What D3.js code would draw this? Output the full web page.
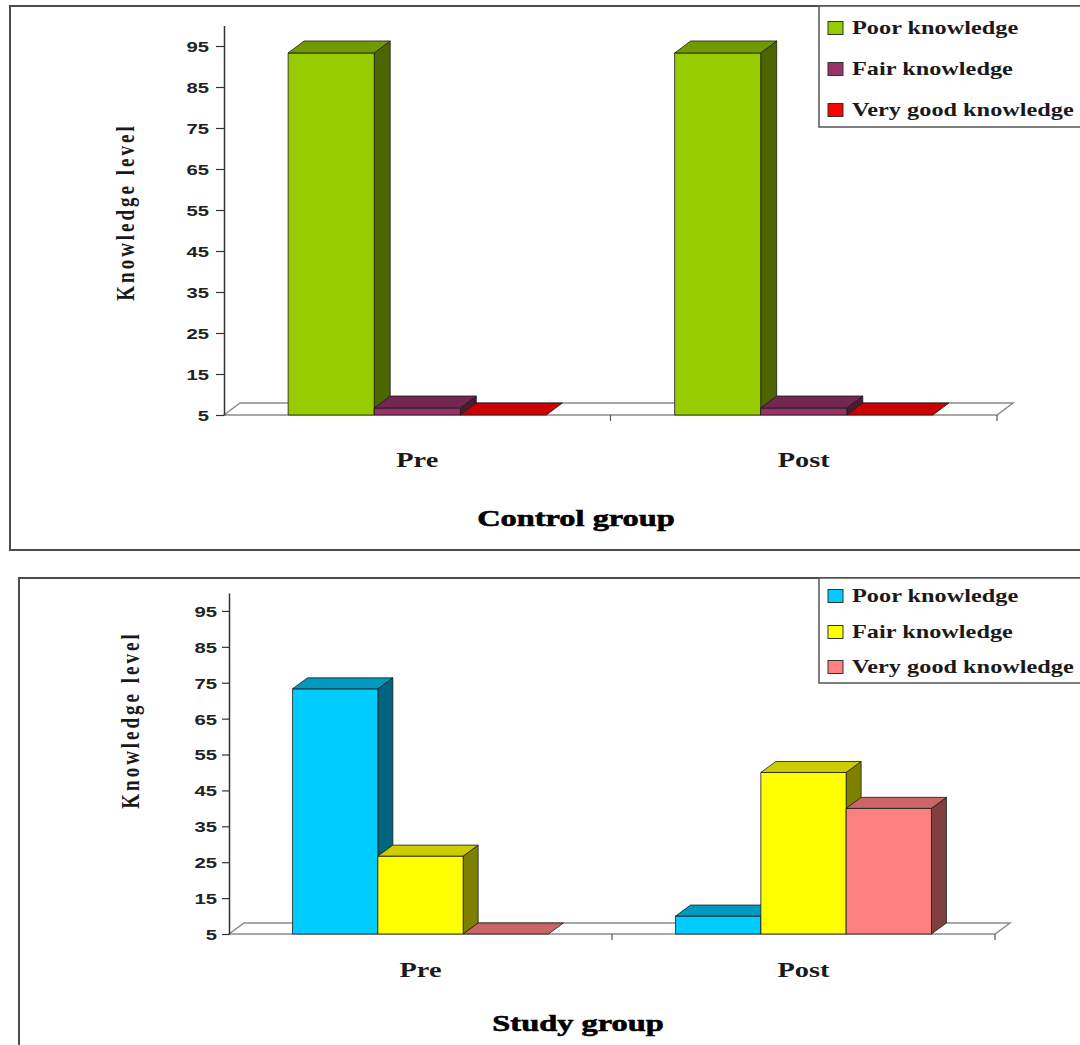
<!DOCTYPE html>
<html>
<head>
<meta charset="utf-8">
<script src="https://cdn.jsdelivr.net/npm/d3@7"></script>
<style>
    body { margin: 0; background: #fff; }
    svg { display: block; }
</style>
</head>
<body>
<div id="chart"></div>
<script>
// Chart values (percent)
const categories = ["Pre", "Post"];
const seriesNames = ["Poor knowledge", "Fair knowledge", "Very good knowledge"];
const controlPoor = [93.3, 93.3];
const controlFair = [6.7, 6.7];
const controlVeryGood = [0, 0];
const studyPoor = [73.3, 10];
const studyFair = [26.7, 50];
const studyVeryGood = [0, 40];
const yTicks = [5, 15, 25, 35, 45, 55, 65, 75, 85, 95];
const yMin = 5, yMax = 100;

// Palettes: front, top, side for each series
const controlColors = [
    { front: "#99CC00", top: "#739900", side: "#4D6600" },
    { front: "#993366", top: "#732650", side: "#4D1933" },
    { front: "#FF0000", top: "#CC0000", side: "#800000" }
];
const studyColors = [
    { front: "#00CCFF", top: "#0099BF", side: "#006680" },
    { front: "#FFFF00", top: "#CCCC00", side: "#808000" },
    { front: "#FF8080", top: "#CC6666", side: "#804040" }
];

const stretch = 1.35; // the picture is wider than its type
const serif = "'Liberation Serif', 'Times New Roman', serif";
const sans = "'Liberation Sans', Arial, sans-serif";

const svg = d3.select("#chart").append("svg")
    .attr("width", 1080)
    .attr("height", 1045);

svg.append("rect").attr("width", 1080).attr("height", 1045).attr("fill", "#fff");

function drawChart(cfg) {
    const g = svg.append("g");

    // outer frame (right side runs off the page)
    g.append("rect")
        .attr("x", cfg.frame.x).attr("y", cfg.frame.y)
        .attr("width", 1200).attr("height", cfg.frame.h)
        .attr("fill", "none")
        .attr("stroke", "#4d4d4d")
        .attr("stroke-width", 2);

    const x0 = d3.scaleBand()
        .domain(categories)
        .range([cfg.plot.left, cfg.plot.right])
        .paddingInner(0).paddingOuter(0);

    const x1 = d3.scaleBand()
        .domain(seriesNames)
        .range([0, x0.bandwidth()])
        .paddingInner(0)
        .paddingOuter(0.745);

    const y = d3.scaleLinear()
        .domain([yMin, yMax])
        .range([cfg.plot.bottom, cfg.plot.top]);

    const dx = cfg.depth.dx, dy = cfg.depth.dy;
    const y0 = y(yMin);

    // floor
    g.append("polygon")
        .attr("points", [
            [cfg.plot.left, y0], [cfg.plot.right, y0],
            [cfg.plot.right + dx, y0 + dy], [cfg.plot.left + dx, y0 + dy]
        ].map(p => p.join(",")).join(" "))
        .attr("fill", "#fff")
        .attr("stroke", "#8c8c8c")
        .attr("stroke-width", 1.5);

    // category boundary ticks
    const bounds = categories.map(c => x0(c) + x0.bandwidth());
    g.selectAll(".cat-tick")
        .data(bounds)
        .enter().append("line")
        .attr("x1", d => d).attr("x2", d => d)
        .attr("y1", y0).attr("y2", y0 + 6)
        .attr("stroke", "#555")
        .attr("stroke-width", 1.2);

    // bars
    const rows = [];
    categories.forEach((c, i) => {
        cfg.values.forEach((vals, s) => {
            rows.push({ cat: c, series: seriesNames[s], s: s, value: vals[i] });
        });
    });

    rows.forEach(d => {
        const bx = x0(d.cat) + x1(d.series);
        const w = x1.bandwidth();
        const yt = y(Math.max(d.value, yMin));
        const col = cfg.colors[d.s];
        const bar = g.append("g")
            .attr("stroke", "#1a1a1a")
            .attr("stroke-width", 0.8)
            .attr("stroke-linejoin", "round");

        if (d.value > yMin) {
            bar.append("polygon")
                .attr("points", [[bx + w, yt], [bx + w + dx, yt + dy], [bx + w + dx, y0 + dy], [bx + w, y0]]
                    .map(p => p.join(",")).join(" "))
                .attr("fill", col.side);
            bar.append("rect")
                .attr("x", bx).attr("y", yt)
                .attr("width", w).attr("height", y0 - yt)
                .attr("fill", col.front);
        }
        bar.append("polygon")
            .attr("points", [[bx, yt], [bx + w, yt], [bx + w + dx, yt + dy], [bx + dx, yt + dy]]
                .map(p => p.join(",")).join(" "))
            .attr("fill", col.top);
    });

    // y axis
    const yAxis = g.append("g")
        .attr("transform", `translate(${cfg.plot.left},0)`)
        .call(d3.axisLeft(y).tickValues(yTicks).tickSize(cfg.tickSize).tickSizeOuter(0));

    yAxis.select(".domain").attr("stroke", "#333").attr("stroke-width", 1.5);
    yAxis.selectAll(".tick line").attr("stroke", "#333").attr("stroke-width", 1.2);
    yAxis.selectAll(".tick text")
        .attr("x", null)
        .attr("dy", "0.36em")
        .attr("transform", `translate(${-cfg.tickSize - cfg.tickPad},0) scale(${stretch},1)`)
        .attr("font-family", sans)
        .attr("font-weight", "bold")
        .attr("font-size", 15)
        .attr("fill", "#222")
        .attr("text-anchor", "end");

    // y axis title
    g.append("text")
        .attr("transform", `translate(${cfg.yLabel.x},${cfg.yLabel.y}) rotate(-90) scale(1,${stretch})`)
        .attr("text-anchor", "middle")
        .attr("dy", "0.35em")
        .attr("font-family", serif)
        .attr("font-weight", "bold")
        .attr("font-size", 19)
        .attr("letter-spacing", 3)
        .attr("fill", "#1a1a1a")
        .text("Knowledge level");

    // category labels
    g.selectAll(".cat-label")
        .data(categories)
        .enter().append("text")
        .attr("transform", d => `translate(${x0(d) + x0.bandwidth() / 2},${cfg.catLabelY}) scale(${stretch},1)`)
        .attr("text-anchor", "middle")
        .attr("font-family", serif)
        .attr("font-weight", "bold")
        .attr("font-size", 21)
        .attr("fill", "#1a1a1a")
        .text(d => d);

    // chart title
    g.append("text")
        .attr("transform", `translate(${cfg.title.x},${cfg.title.y}) scale(${stretch},1)`)
        .attr("text-anchor", "middle")
        .attr("font-family", serif)
        .attr("font-weight", "bold")
        .attr("font-size", 24)
        .attr("fill", "#000")
        .attr("stroke", "#000")
        .attr("stroke-width", 0.6)
        .text(cfg.title.text);

    // legend
    const lg = g.append("g");
    lg.append("rect")
        .attr("x", cfg.legend.x).attr("y", cfg.legend.y)
        .attr("width", 400).attr("height", cfg.legend.h)
        .attr("fill", "#fff")
        .attr("stroke", "#555")
        .attr("stroke-width", 1.5);

    const items = lg.selectAll(".item")
        .data(seriesNames)
        .enter().append("g")
        .attr("transform", (d, i) => `translate(${cfg.legend.x},${cfg.legend.rows[i]})`);

    items.append("rect")
        .attr("x", 9).attr("y", -6.5)
        .attr("width", 15).attr("height", 13)
        .attr("fill", (d, i) => cfg.colors[i].front)
        .attr("stroke", "#333")
        .attr("stroke-width", 1);

    items.append("text")
        .attr("transform", `translate(33,6) scale(${stretch},1)`)
        .attr("font-family", serif)
        .attr("font-weight", "bold")
        .attr("font-size", 18)
        .attr("fill", "#1a1a1a")
        .text(d => d);
}

drawChart({
    values: [controlPoor, controlFair, controlVeryGood],
    colors: controlColors,
    frame: { x: 10, y: 6, h: 544 },
    plot: { left: 224, right: 997, top: 25.5, bottom: 415 },
    depth: { dx: 16, dy: -12 },
    tickSize: 8, tickPad: 7,
    yLabel: { x: 125, y: 212 },
    catLabelY: 467,
    title: { x: 576, y: 526, text: "Control group" },
    legend: { x: 819, y: 6, h: 121, rows: [28, 69, 110] }
});

drawChart({
    values: [studyPoor, studyFair, studyVeryGood],
    colors: studyColors,
    frame: { x: 19, y: 578, h: 500 },
    plot: { left: 229, right: 995, top: 593, bottom: 934 },
    depth: { dx: 15, dy: -11 },
    tickSize: 7, tickPad: 5,
    yLabel: { x: 130, y: 720 },
    catLabelY: 977,
    title: { x: 578, y: 1031, text: "Study group" },
    legend: { x: 819, y: 578, h: 105, rows: [596, 632, 667] }
});
</script>
</body>
</html>
